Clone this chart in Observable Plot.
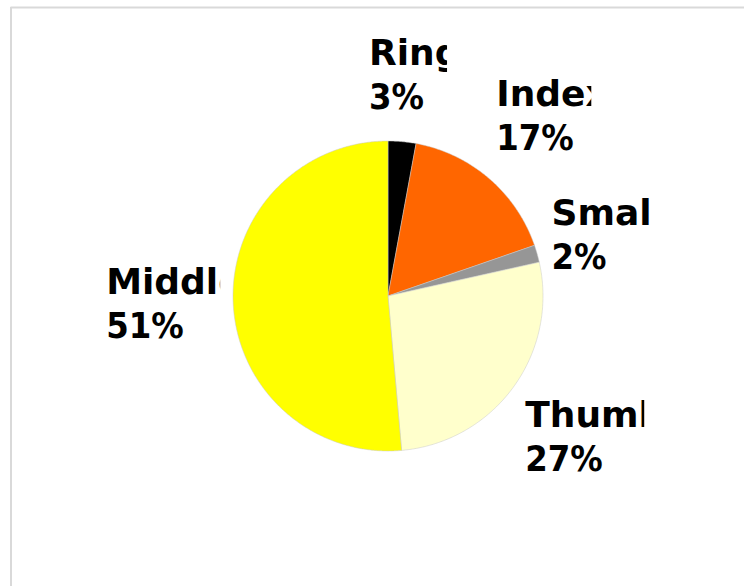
<!DOCTYPE html>
<html>
<head>
<meta charset="utf-8">
<script src="https://cdn.jsdelivr.net/npm/d3@7"></script>
<script src="https://cdn.jsdelivr.net/npm/@observablehq/plot@0.6"></script>
<style>
  html, body { margin: 0; padding: 0; background: #fff; }
  #chart svg { display: block; }
</style>
</head>
<body>
<div id="chart"></div>
<script>
// ---- data (shares; labels show them rounded) ----
const names = ["Ring", "Index", "Small", "Thumb", "Middle"];
const values = [2.9, 16.8, 1.8, 27.1, 51.4];
const colors = ["#000000", "#FF6600", "#969696", "#FFFFCC", "#FFFF00"];

// ---- layout ----
const W = 744, H = 586;
const cx = 387.5, cy = 295.5, R = 155;
const labelGap = 170, boxH = 100;
const boxWidths = [78, 91, 95, 114, 112];   // label boxes (for placement)
const clipWidths = [78, 95, 100, 119, 114]; // visible width of the name text
const frameLeft = 10.5, frameTop = 7;

const rows = names.map((name, i) => ({name, value: values[i]}));
const total = d3.sum(values);
const arcs = d3.pie().sort(null).value(d => d.value)(rows);

// slice outlines (polygons approximating arcs)
const slicePts = [];
arcs.forEach(a => {
  const name = a.data.name;
  slicePts.push({name, x: cx, y: cy});
  const n = Math.max(2, Math.ceil((a.endAngle - a.startAngle) / (Math.PI / 360)));
  for (let k = 0; k <= n; k++) {
    const t = a.startAngle + (a.endAngle - a.startAngle) * k / n;
    slicePts.push({name, x: cx + R * Math.sin(t), y: cy - R * Math.cos(t)});
  }
  slicePts.push({name, x: cx, y: cy});
});

// label boxes: pushed outward along the mid-angle until the box edge reaches labelGap
const labels = arcs.map((a, i) => {
  const m = (a.startAngle + a.endAngle) / 2;
  const s = Math.sin(m), c = Math.cos(m);
  const w = boxWidths[i];
  const t = Math.min((w / 2) / Math.max(Math.abs(s), 1e-6), (boxH / 2) / Math.max(Math.abs(c), 1e-6));
  const d = labelGap + t;
  const bx = cx + d * s;
  const by = cy - d * c;
  return {
    name: a.data.name,
    pct: Math.round(a.data.value / total * 100) + "%",
    left: bx - w / 2,
    clip: clipWidths[i],
    yName: by - 23,
    yPct: by + 21
  };
});

const chart = Plot.plot({
  width: W,
  height: H,
  margin: 0,
  x: {domain: [0, W], axis: null},
  y: {domain: [H, 0], axis: null},
  color: {domain: names, range: colors},
  marks: [
    Plot.ruleY([frameTop], {x1: frameLeft, x2: W, stroke: "#d9d9d9", strokeWidth: 2}),
    Plot.ruleX([frameLeft], {y1: frameTop, y2: H, stroke: "#d9d9d9", strokeWidth: 2}),
    Plot.line(slicePts, {x: "x", y: "y", z: "name", fill: "name", stroke: "#c8c8c8", strokeWidth: 0.5, curve: "linear"}),
    Plot.text(labels, {x: "left", y: "yName", text: "name", textAnchor: "start",
      fontSize: 36, fontWeight: "bold", fontFamily: "DejaVu Sans", fill: "#000"}),
    Plot.text(labels, {x: "left", y: "yPct", text: "pct", textAnchor: "start",
      fontSize: 36, fontWeight: "bold", fontFamily: "DejaVu Sans Condensed, DejaVu Sans", fill: "#000"})
  ]
});

// clip the name labels to their label boxes (as in the original)
const ns = "http://www.w3.org/2000/svg";
const defs = document.createElementNS(ns, "defs");
chart.insertBefore(defs, chart.firstChild);
Array.from(chart.querySelectorAll("text")).forEach(t => {
  const i = names.indexOf(t.textContent);
  if (i < 0) return;
  const d = labels[i];
  const id = "clip-label-" + i;
  const cp = document.createElementNS(ns, "clipPath");
  cp.setAttribute("id", id);
  const r = document.createElementNS(ns, "rect");
  r.setAttribute("x", d.left - 3);
  r.setAttribute("y", 0);
  r.setAttribute("width", d.clip + 3);
  r.setAttribute("height", H);
  cp.appendChild(r);
  defs.appendChild(cp);
  const g = document.createElementNS(ns, "g");
  g.setAttribute("clip-path", `url(#${id})`);
  t.parentNode.insertBefore(g, t);
  g.appendChild(t);
});
document.getElementById("chart").appendChild(chart);
</script>
</body>
</html>
